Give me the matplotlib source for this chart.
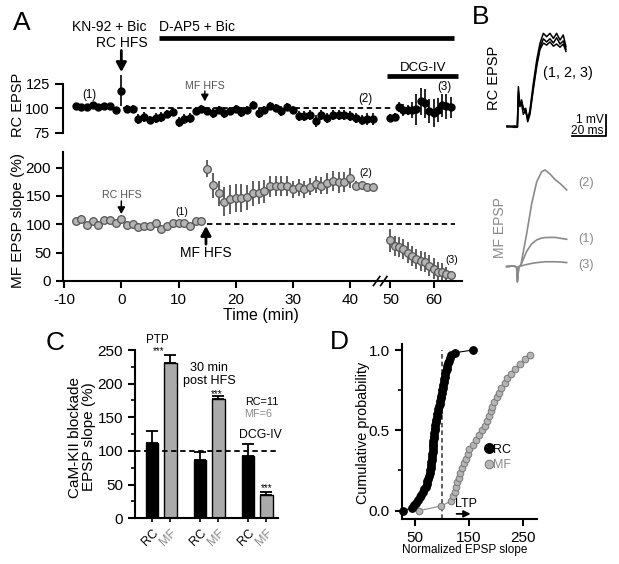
import numpy as np
import matplotlib.pyplot as plt
from matplotlib.ticker import NullLocator

plt.rcParams['font.family'] = ['Liberation Sans', 'DejaVu Sans']
plt.rcParams['axes.unicode_minus'] = False

W, H = 619, 564
GRAY = '#8a8a8a'
MF_FACE = '#b4b4b4'
MF_EDGE = '#555555'

# ---------------- Panel A data (one point per minute) ----------------
t_pre = np.arange(-8, 45)
t_post = np.arange(50, 65)

rc_pre = [102, 101, 101, 103, 101, 102, 102, 98, 118, 99, 99, 89, 91, 88, 90, 91,
          94, 96, 86, 89, 90, 97, 99, 97, 95, 98, 95, 97, 99, 96, 98, 103, 95, 98,
          102, 100, 97, 101, 98, 92, 92, 93, 87, 93, 90, 93, 93, 93, 92, 90, 88, 89, 89]
rc_pre_err = [3, 3, 3, 3, 3, 3, 3, 3, 16, 4, 4, 5, 5, 4, 5, 5,
              4, 4, 5, 5, 5, 4, 4, 4, 5, 4, 5, 4, 4, 5, 4, 4, 5, 4,
              4, 4, 5, 4, 4, 5, 5, 5, 6, 5, 5, 5, 5, 5, 5, 5, 5, 6, 6]
rc_post = [90, 91, 101, 98, 98, 98, 99, 107, 105, 97, 95, 98, 103, 102, 101]
rc_post_err = [4, 4, 5, 6, 5, 8, 16, 14, 15, 12, 14, 12, 12, 13, 11]

mf_pre = [105, 110, 99, 105, 98, 108, 108, 103, 109, 99, 100, 95, 97, 97, 103, 91,
          97, 102, 103, 103, 97, 105, 105,
          198, 169, 155, 140, 144, 146, 146, 148, 155, 156, 158, 167, 168, 168, 168,
          162, 165, 162, 166, 171, 168, 172, 176, 174, 175, 182, 168, 169, 166, 166]
mf_pre_err = [4, 6, 4, 4, 4, 5, 5, 4, 6, 4, 4, 4, 4, 4, 4, 5,
              4, 4, 4, 4, 4, 4, 4,
              15, 22, 22, 25, 25, 25, 25, 22, 22, 20, 20, 18, 18, 18, 18,
              15, 15, 15, 15, 15, 15, 18, 18, 18, 18, 18, 8, 8, 6, 6]
mf_post = [72, 62, 60, 56, 50, 44, 39, 35, 33, 27, 22, 16, 16, 12, 10]
mf_post_err = [20, 18, 18, 18, 18, 18, 18, 18, 18, 18, 18, 18, 15, 12, 8]

# ---------------- Panel B traces (ms, mV) ----------------
rc_t = [0, 4.7, 6.1, 6.7, 7.6, 8.6, 9.6, 11, 12.2, 13.5, 15.5, 17.5, 19.4, 21.4,
        23.3, 25.3, 27.3, 29.2, 31.2, 33.1, 34.7]
rc_tr1 = [0.05, 0.02, -0.02, 1.92, 0.97, 1.29, 0.81, 0.89, 0.33, 0.81, 2.08, 3.19,
          3.98, 4.46, 4.3, 4.46, 4.22, 4.46, 4.14, 4.38, 3.82]
rc_tr2 = [0.0, 0.05, 0.0, 1.7, 1.1, 1.2, 0.9, 0.7, 0.45, 0.7, 1.9, 3.0, 3.8, 4.2,
          4.05, 4.2, 4.0, 4.25, 3.95, 4.1, 3.7]
rc_tr3 = [0.03, -0.02, 0.02, 1.5, 1.0, 1.1, 0.6, 0.8, 0.25, 0.6, 1.8, 2.9, 3.7, 4.0,
          3.9, 4.05, 3.85, 3.95, 3.8, 3.95, 3.6]

mf_t = [-0.2, 3.7, 5.7, 6.1, 6.9, 8.2, 11.6, 14.5, 17.5, 20.4, 22.4, 25.3, 28.2, 31.2, 35.1]
mf_tr2 = [0.02, 0.05, 0.0, -0.7, 0.0, 0.1, 1.6, 3.0, 4.06, 4.54, 4.62, 4.43, 4.17, 3.98, 3.67]
mf_tr1 = [0.02, 0.05, 0.0, -0.7, 0.0, 0.1, 0.75, 1.1, 1.29, 1.38, 1.4, 1.41, 1.41, 1.37, 1.32]
mf_tr3 = [0.02, 0.05, 0.0, -0.7, 0.0, 0.05, 0.12, 0.17, 0.21, 0.23, 0.25, 0.25, 0.25, 0.24, 0.21]

# ---------------- Panel C data ----------------
bar_labels = ['RC', 'MF', 'RC', 'MF', 'RC', 'MF']
bar_vals = [112, 230, 87, 177, 93, 35]
bar_err = [18, 13, 12, 4, 18, 4]

# ---------------- Panel D data (sorted normalized slopes) ----------------
rc_cum = [27, 44, 48, 52, 55, 58.5, 61.5, 64.5, 67, 69.5, 71.5, 73, 74.5, 75.8, 77,
          78, 79, 79.6, 80.2, 80.8, 81.4, 82, 82.5, 83, 83.4, 83.8, 84.2, 84.7, 85.3,
          86, 86.6, 87.2, 87.7, 88.2, 89, 90.2, 91.3, 92.4, 93.4, 94.4, 95.4, 96.4,
          97.4, 98.4, 99.2, 100.2, 101.2, 102.2, 103.2, 104.2, 105, 105.8, 107, 108.5,
          109.8, 111, 112.8, 115, 117.5, 124, 157]
mf_cum = [58, 99, 116, 121, 124, 126, 128, 131, 134, 137, 141, 144, 147.5, 150.5,
          157, 163, 169, 175, 179.5, 184, 187.5, 190, 193, 196, 201, 206, 210, 216.5,
          221, 227, 235, 244, 253.5, 263]

fig = plt.figure(figsize=(W / 100, H / 100), dpi=100)


def px_axes(left, top, right, bottom):
    return fig.add_axes([left / W, 1 - bottom / H, (right - left) / W, (bottom - top) / H])


# broken time axis: compressed after the break
T_KN = [-100, 45.3, 47.7, 200]
F_KN = [-100, 45.3, 45.32, 45.32 + 152.3 * 0.754]


def fwd(t):
    return np.interp(t, T_KN, F_KN)


def inv(f):
    return np.interp(f, F_KN, T_KN)


BIG_ARROW = dict(arrowstyle='-|>,head_width=0.3,head_length=0.55', lw=2, color='k',
                 shrinkA=0, shrinkB=0)
SMALL_ARROW = dict(arrowstyle='-|>,head_width=0.22,head_length=0.4', lw=1.1, color='k',
                   shrinkA=0, shrinkB=0)

# ---------------- A top: RC EPSP ----------------
a1 = px_axes(63, 69.1, 462, 137.7)
a1.set_xscale('function', functions=(fwd, inv))
a1.set_xlim(-10.2, 66.6)
a1.set_ylim(70, 140)
a1.plot([0.3, 50.5], [100, 100], color='k', lw=1.3, dashes=(3, 2))
a1.errorbar(t_pre, rc_pre, yerr=rc_pre_err, fmt='o', color='k', ms=5, elinewidth=1.2, capsize=0)
a1.errorbar(t_post, rc_post, yerr=rc_post_err, fmt='o', color='k', ms=5, elinewidth=1.2, capsize=0)
for s in ['top', 'right', 'bottom']:
    a1.spines[s].set_visible(False)
a1.spines['left'].set_bounds(75, 125)
a1.spines['left'].set_linewidth(1.5)
a1.set_yticks([75, 100, 125])
a1.tick_params(axis='y', labelsize=10.5, width=1.5, length=6)
a1.set_xticks([])
a1.xaxis.set_minor_locator(NullLocator())
a1.set_ylabel('RC EPSP', fontsize=10.5)
a1.yaxis.set_label_coords(-0.095, 0.48)

a1.text(-2.1, 183, 'KN-92 + Bic', fontsize=10, ha='center', va='center')
a1.text(6.5, 183, 'D-AP5 + Bic', fontsize=10, ha='left', va='center')
a1.plot([6.5, 64.8], [172, 172], color='k', lw=3.4, solid_capstyle='butt', clip_on=False)
a1.text(0, 166.5, 'RC HFS', fontsize=10, ha='center', va='center')
a1.annotate('', xy=(0, 137), xytext=(0, 159), annotation_clip=False, arrowprops=BIG_ARROW)
a1.text(57.5, 141, 'DCG-IV', fontsize=9.5, ha='center', va='center')
a1.plot([49.3, 65.6], [133, 133], color='k', lw=3.4, solid_capstyle='butt', clip_on=False)
a1.text(14.6, 123, 'MF HFS', fontsize=7.7, color='#555555', ha='center', va='center')
a1.annotate('', xy=(14.6, 107), xytext=(14.6, 117.5), annotation_clip=False,
            arrowprops=SMALL_ARROW)
a1.text(-5.6, 113.6, '(1)', fontsize=8.3, ha='center', va='center')
a1.text(42.6, 109.5, '(2)', fontsize=8.3, ha='center', va='center')
a1.text(62.5, 122, '(3)', fontsize=8.3, ha='center', va='center')

# ---------------- A bottom: MF EPSP slope ----------------
a2 = px_axes(63, 151.7, 462, 281)
a2.set_xscale('function', functions=(fwd, inv))
a2.set_xlim(-10.2, 66.6)
a2.set_ylim(0, 228)
a2.plot([15, 65], [100, 100], color='k', lw=1.3, dashes=(3, 2))
a2.errorbar(t_pre, mf_pre, yerr=mf_pre_err, fmt='o', ms=5.5, mfc=MF_FACE, mec=MF_EDGE,
            mew=0.9, ecolor='#333333', elinewidth=1.1, capsize=0)
a2.errorbar(t_post, mf_post, yerr=mf_post_err, fmt='o', ms=5.5, mfc=MF_FACE, mec=MF_EDGE,
            mew=0.9, ecolor='#333333', elinewidth=1.1, capsize=0)
for s in ['top', 'right']:
    a2.spines[s].set_visible(False)
for s in ['left', 'bottom']:
    a2.spines[s].set_linewidth(1.5)
a2.set_yticks([0, 50, 100, 150, 200])
a2.set_xticks([-10, 0, 10, 20, 30, 40, 50, 60])
a2.xaxis.set_minor_locator(NullLocator())
a2.tick_params(labelsize=11, width=1.5, length=5)
a2.set_ylabel('MF EPSP slope (%)', fontsize=11)
a2.yaxis.set_label_coords(-0.095, 0.47)
a2.set_xlabel('Time (min)', fontsize=11.5)
a2.xaxis.set_label_coords(0.496, -0.205)
for xb in (0.786, 0.804):
    a2.plot([xb - 0.008, xb + 0.008], [-0.035, 0.035], color='k', lw=1.2,
            transform=a2.transAxes, clip_on=False)
a2.text(0, 151.7, 'RC HFS', fontsize=7.7, color='#555555', ha='center', va='center')
a2.annotate('', xy=(0, 118), xytext=(0, 141), annotation_clip=False, arrowprops=SMALL_ARROW)
a2.text(14.8, 50, 'MF HFS', fontsize=10, ha='center', va='center')
a2.annotate('', xy=(14.8, 97), xytext=(14.8, 65), annotation_clip=False, arrowprops=BIG_ARROW)
a2.text(10.5, 121.7, '(1)', fontsize=7.5, ha='center', va='center')
a2.text(42.8, 190.5, '(2)', fontsize=7.5, ha='center', va='center')
a2.text(64.3, 37, '(3)', fontsize=7.5, ha='center', va='center')

# ---------------- B: traces ----------------
b1 = px_axes(490, 20, 619, 145)
b1.set_xlim(-10, 65.9)
b1.set_ylim(-0.857, 5.095)
b1.axis('off')
for tr in (rc_tr1, rc_tr2, rc_tr3):
    b1.plot(rc_t, tr, color='k', lw=1.1)
b1.plot([58.1, 58.1, 38.1], [0.57, -0.43, -0.43], color='k', lw=1.3)
b1.text(57, 0.33, '1 mV', fontsize=8.6, ha='right', va='center')
b1.text(57, -0.17, '20 ms', fontsize=8.6, ha='right', va='center')
b1.text(21.2, 2.57, '(1, 2, 3)', fontsize=10.4, ha='left', va='center')
b1.text(-7.5, 2.33, 'RC EPSP', fontsize=10.5, rotation=90, ha='center', va='center')

b2 = px_axes(490, 160, 619, 290)
b2.set_xlim(-10, 65.9)
b2.set_ylim(-1.095, 5.095)
b2.axis('off')
for tr in (mf_tr2, mf_tr1, mf_tr3):
    b2.plot(mf_t, tr, color=GRAY, lw=1.2)
b2.text(-4.1, 1.9, 'MF EPSP', fontsize=10, color=GRAY, rotation=90, ha='center', va='center')
b2.text(41.8, 4.0, '(2)', fontsize=9.2, color=GRAY, ha='left', va='center')
b2.text(41.8, 1.33, '(1)', fontsize=9.2, color=GRAY, ha='left', va='center')
b2.text(41.8, 0.1, '(3)', fontsize=9.2, color=GRAY, ha='left', va='center')

# ---------------- C: bar chart ----------------
c = px_axes(135, 350, 278, 518.3)
bar_x = [-0.19, 0.19, 0.81, 1.19, 1.81, 2.19]
bar_col = ['k', '#aaaaaa'] * 3
c.bar(bar_x, bar_vals, width=0.26, color=bar_col, edgecolor='k', lw=1,
      yerr=[[0] * 6, bar_err], capsize=4, error_kw=dict(lw=1.3, capthick=1.3), zorder=2)
c.plot([-0.546, 2.433], [100, 100], color='k', lw=1.3, dashes=(3, 2), zorder=3)
c.set_xlim(-0.546, 2.433)
c.set_ylim(0, 250)
for s in ['top', 'right']:
    c.spines[s].set_visible(False)
for s in ['left', 'bottom']:
    c.spines[s].set_linewidth(1.5)
c.set_yticks([0, 50, 100, 150, 200, 250])
c.set_yticks([25, 75, 125, 175, 225], minor=True)
c.tick_params(axis='y', labelsize=11, width=1.5, length=5)
c.tick_params(axis='y', which='minor', width=1.2, length=3)
c.set_xticks(bar_x)
c.set_xticklabels(bar_labels, rotation=45, ha='right', rotation_mode='anchor', fontsize=9)
for lab, col in zip(c.get_xticklabels(), ['k', GRAY] * 3):
    lab.set_color(col)
c.tick_params(axis='x', width=1.2, length=3)
c.set_ylabel('CaM-KII blockade\nEPSP slope (%)', fontsize=11, linespacing=1.0)
c.yaxis.set_label_coords(-0.27, 0.483)
c.text(-0.08, 265, 'PTP', fontsize=8.4, ha='center', va='center')
c.text(-0.05, 249, '***', fontsize=7, ha='center', va='center')
c.text(1.0, 223, '30 min', fontsize=9.1, ha='center', va='center')
c.text(1.0, 204, 'post HFS', fontsize=9.1, ha='center', va='center')
c.text(1.15, 184, '***', fontsize=7, ha='center', va='center')
c.text(2.1, 173, 'RC=11', fontsize=7.8, ha='center', va='center')
c.text(2.02, 154.5, 'MF=6', fontsize=7.8, color=GRAY, ha='center', va='center')
c.text(2.06, 123, 'DCG-IV', fontsize=8.8, ha='center', va='center')
c.text(2.19, 45, '***', fontsize=7, ha='center', va='center')

# ---------------- D: cumulative probability ----------------
d = px_axes(401.7, 343.6, 537.3, 519)
p_rc = np.arange(len(rc_cum)) / (len(rc_cum) - 1)
p_mf = np.arange(len(mf_cum)) / len(mf_cum)
d.plot([100, 100], [-0.052, 1.0], color='#333333', lw=1.1, dashes=(3, 2))
d.plot(mf_cum, p_mf, '-o', color=GRAY, lw=0.8, ms=4.8, mfc=MF_FACE, mec='#777777', mew=0.7,
       label='MF', clip_on=False)
d.plot(rc_cum, p_rc, '-o', color='k', lw=0.8, ms=5.3, mec='k', label='RC', clip_on=False)
d.set_xlim(25.4, 276.5)
d.set_ylim(-0.052, 1.04)
for s in ['top', 'right']:
    d.spines[s].set_visible(False)
for s in ['left', 'bottom']:
    d.spines[s].set_linewidth(1.5)
d.set_yticks([0, 0.5, 1.0])
d.set_yticklabels(['0.0', '0.5', '1.0'])
d.set_yticks([0.25, 0.75], minor=True)
d.set_xticks([50, 150, 250])
d.tick_params(labelsize=11, width=1.5, length=5)
d.tick_params(axis='y', which='minor', width=1.2, length=3)
d.set_ylabel('Cumulative probability', fontsize=10.4)
d.yaxis.set_label_coords(-0.235, 0.49)
d.set_xlabel('Normalized EPSP slope', fontsize=8.5)
d.xaxis.set_label_coords(0.467, -0.14)
d.text(144, 0.04, 'LTP', fontsize=9, ha='center', va='center')
d.annotate('', xy=(153, -0.02), xytext=(127, -0.02), annotation_clip=False,
           arrowprops=dict(arrowstyle='-|>,head_width=0.2,head_length=0.4', lw=1.3, color='k',
                           shrinkA=0, shrinkB=0))
handles, labels = d.get_legend_handles_labels()
leg = d.legend(handles[::-1], labels[::-1], loc='center left', bbox_to_anchor=(0.6, 0.35),
               frameon=False, handlelength=0, handletextpad=0.3, fontsize=9,
               labelspacing=0.3, markerscale=1.3, borderpad=0)
leg.get_texts()[1].set_color(GRAY)

# panel letters
for letter, x, y in [('A', 13, 22.5), ('B', 472, 16.5), ('C', 46, 343), ('D', 330, 342)]:
    fig.text(x / W, 1 - y / H, letter, fontsize=19, ha='left', va='center')

fig.savefig('out.png', dpi=100)
